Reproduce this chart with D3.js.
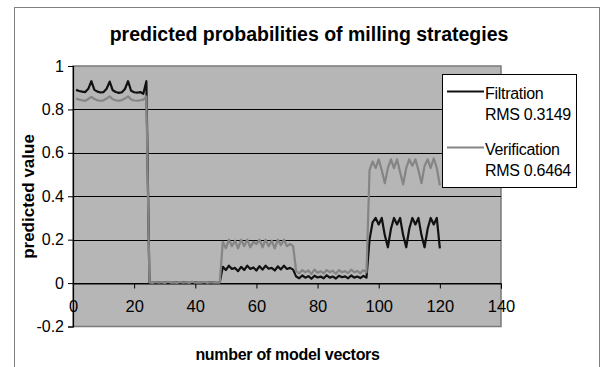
<!DOCTYPE html>
<html lang="en">
<head>
<meta charset="utf-8">
<title>predicted probabilities of milling strategies</title>
<script src="https://d3js.org/d3.v7.min.js"></script>
<style>
  body { margin: 0; background: #fff; }
  text { font-family: Arial, "Liberation Sans", sans-serif; fill: #000; }
</style>
</head>
<body>
<div id="chart"></div>
<script>

// series values, one per model vector (vector 1 .. 120)
var filtration = [
  0.890, 0.885, 0.882, 0.880, 0.895, 0.930, 0.890, 0.882, 0.878, 0.880, 0.895, 0.928,
  0.888, 0.880, 0.876, 0.879, 0.894, 0.930, 0.886, 0.879, 0.877, 0.880, 0.872, 0.930,
  0.002, 0.001, 0.003, 0.002, 0.001, 0.002, 0.003, 0.001, 0.002, 0.002, 0.001, 0.003,
  0.002, 0.001, 0.002, 0.003, 0.001, 0.002, 0.002, 0.001, 0.003, 0.002, 0.001, 0.002,
  0.075, 0.060, 0.080, 0.065, 0.070, 0.055, 0.075, 0.060, 0.080, 0.065, 0.072, 0.058,
  0.078, 0.062, 0.080, 0.066, 0.070, 0.058, 0.077, 0.063, 0.080, 0.065, 0.070, 0.062,
  0.030, 0.022, 0.035, 0.025, 0.032, 0.020, 0.034, 0.026, 0.030, 0.022, 0.036, 0.025,
  0.030, 0.021, 0.034, 0.027, 0.031, 0.022, 0.035, 0.025, 0.030, 0.023, 0.033, 0.025,
  0.200, 0.280, 0.300, 0.270, 0.300, 0.220, 0.165, 0.250, 0.300, 0.270, 0.300, 0.220,
  0.165, 0.250, 0.300, 0.270, 0.300, 0.220, 0.165, 0.250, 0.300, 0.270, 0.300, 0.160
];

var verification = [
  0.850, 0.845, 0.842, 0.840, 0.848, 0.858, 0.848, 0.842, 0.840, 0.842, 0.850, 0.860,
  0.847, 0.842, 0.840, 0.843, 0.850, 0.860, 0.846, 0.841, 0.840, 0.842, 0.845, 0.860,
  0.003, 0.001, 0.005, 0.002, 0.004, 0.001, 0.006, 0.002, 0.003, 0.001, 0.005, 0.002,
  0.004, 0.001, 0.006, 0.002, 0.003, 0.002, 0.005, 0.001, 0.004, 0.002, 0.003, 0.002,
  0.190, 0.160, 0.200, 0.170, 0.195, 0.160, 0.200, 0.170, 0.200, 0.165, 0.190, 0.180,
  0.200, 0.165, 0.200, 0.170, 0.195, 0.160, 0.200, 0.175, 0.200, 0.170, 0.180, 0.170,
  0.055, 0.045, 0.060, 0.050, 0.058, 0.042, 0.062, 0.048, 0.055, 0.045, 0.060, 0.050,
  0.057, 0.043, 0.060, 0.050, 0.055, 0.046, 0.062, 0.050, 0.056, 0.045, 0.060, 0.050,
  0.520, 0.560, 0.530, 0.570, 0.520, 0.460, 0.530, 0.570, 0.530, 0.570, 0.510, 0.455,
  0.530, 0.570, 0.540, 0.570, 0.520, 0.460, 0.540, 0.570, 0.530, 0.575, 0.530, 0.450
];

var seriesNames = ["Filtration", "Verification"];
var seriesRms = ["RMS 0.3149", "RMS 0.6464"];
var seriesColors = ["#111111", "#858585"];

var xTicks = [0, 20, 40, 60, 80, 100, 120, 140];
var yTicks = [-0.2, 0, 0.2, 0.4, 0.6, 0.8, 1];
var yTickLabels = ["-0.2", "0", "0.2", "0.4", "0.6", "0.8", "1"];

var width = 606;
var height = 367;

var svg = d3.select("#chart")
  .append("svg")
  .attr("width", width)
  .attr("height", height);

// outer chart border (runs off the bottom of the picture)
svg.append("rect")
  .attr("x", 14.5)
  .attr("y", 7.5)
  .attr("width", 585)
  .attr("height", 380)
  .attr("fill", "#fff")
  .attr("stroke", "#808080");

var x = d3.scaleLinear().domain([0, 140]).range([73, 501]);
var y = d3.scaleLinear().domain([-0.2, 1]).range([326.5, 66]);

// plot area
svg.append("rect")
  .attr("x", x(0))
  .attr("y", y(1))
  .attr("width", x(140) - x(0))
  .attr("height", y(-0.2) - y(1))
  .attr("fill", "#b6b6b6")
  .attr("stroke", "#7a7a7a")
  .attr("stroke-width", 1.5);

// gridlines
svg.append("g")
  .selectAll("line")
  .data(yTicks.filter(d => d > -0.2 && d < 1))
  .enter().append("line")
  .attr("x1", x(0))
  .attr("x2", x(140))
  .attr("y1", d => Math.round(y(d)) + 0.5)
  .attr("y2", d => Math.round(y(d)) + 0.5)
  .attr("stroke", "#000")
  .attr("stroke-width", 1);

// y axis
var yAxis = svg.append("g")
  .attr("transform", "translate(" + x(0) + ",0)")
  .call(d3.axisLeft(y).tickValues(yTicks).tickSize(5).tickPadding(4)
    .tickFormat((d, i) => yTickLabels[i]));
yAxis.select(".domain").attr("stroke", "#000").attr("stroke-width", 1.2);
yAxis.selectAll(".tick line").attr("stroke", "#000");
yAxis.selectAll("text")
  .attr("font-size", 16)
  .attr("font-family", "Arial, 'Liberation Sans', sans-serif");

// x axis sits on y = 0
var xAxis = svg.append("g")
  .attr("transform", "translate(0," + (Math.round(y(0)) + 0.5) + ")")
  .call(d3.axisBottom(x).tickValues(xTicks).tickSize(5).tickPadding(12));
xAxis.select(".domain").attr("stroke", "#000");
xAxis.selectAll(".tick line").attr("stroke", "#000");
xAxis.selectAll("text")
  .attr("font-size", 16.5)
  .attr("font-family", "Arial, 'Liberation Sans', sans-serif");

// lines
var line = d3.line()
  .x((d, i) => x(i + 1))
  .y(d => y(d));

[filtration, verification].forEach(function(s, k) {
  svg.append("path")
    .datum(s)
    .attr("fill", "none")
    .attr("stroke", seriesColors[k])
    .attr("stroke-width", 2.2)
    .attr("stroke-linejoin", "round")
    .attr("d", line);
});

// legend
var legend = svg.append("g");
legend.append("rect")
  .attr("x", 442.5)
  .attr("y", 74.5)
  .attr("width", 134)
  .attr("height", 113)
  .attr("fill", "#fff")
  .attr("stroke", "#000");

var item = legend.selectAll("g")
  .data(seriesNames)
  .enter().append("g")
  .attr("transform", (d, i) => "translate(0," + i * 56 + ")");

item.append("line")
  .attr("x1", 447)
  .attr("x2", 484)
  .attr("y1", 91.5)
  .attr("y2", 91.5)
  .attr("stroke", (d, i) => seriesColors[i])
  .attr("stroke-width", 2.2);

item.append("text")
  .attr("x", 485)
  .attr("y", 98.5)
  .attr("font-size", 16)
  .attr("letter-spacing", -0.3)
  .text(d => d);

item.append("text")
  .attr("x", 485)
  .attr("y", 120)
  .attr("font-size", 16)
  .attr("letter-spacing", -0.3)
  .text((d, i) => seriesRms[i]);

// titles
svg.append("text")
  .attr("x", 309)
  .attr("y", 41)
  .attr("text-anchor", "middle")
  .attr("font-size", 19.5)
  .attr("font-weight", "bold")
  .text("predicted probabilities of milling strategies");

svg.append("text")
  .attr("x", 287.5)
  .attr("y", 359.5)
  .attr("text-anchor", "middle")
  .attr("font-size", 16)
  .attr("font-weight", "bold")
  .attr("letter-spacing", -0.3)
  .text("number of model vectors");

svg.append("text")
  .attr("transform", "translate(34,196.5) rotate(-90)")
  .attr("text-anchor", "middle")
  .attr("font-size", 17)
  .attr("font-weight", "bold")
  .text("predicted value");

</script>
</body>
</html>
